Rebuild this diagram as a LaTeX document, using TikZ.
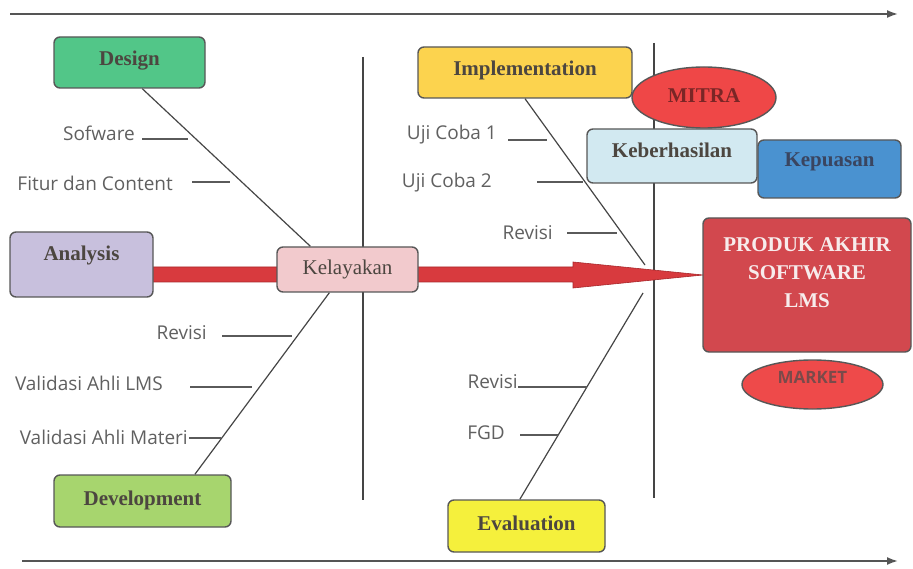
\documentclass[tikz,border=0pt]{standalone}
\usepackage{fontspec}
\setmainfont{Liberation Serif}
\newfontfamily\twigfont{Open Sans}
\usetikzlibrary{shapes.geometric,arrows.meta}

\definecolor{boxline}{HTML}{575757}
\definecolor{ttlgray}{HTML}{4C4640}
\definecolor{lblgray}{HTML}{606060}
\definecolor{twiggray}{HTML}{5A5A5A}
\definecolor{bonegray}{HTML}{454545}
\definecolor{axisgray}{HTML}{555555}
\definecolor{designfill}{HTML}{52C688}
\definecolor{analysisfill}{HTML}{C8C0DD}
\definecolor{kelfill}{HTML}{F2CACD}
\definecolor{devfill}{HTML}{A7D56E}
\definecolor{implfill}{HTML}{FCD34E}
\definecolor{evalfill}{HTML}{F5F03C}
\definecolor{mitrafill}{HTML}{EF4747}
\definecolor{mitratext}{HTML}{7A2626}
\definecolor{keberfill}{HTML}{D2E9F1}
\definecolor{kepfill}{HTML}{4A92D0}
\definecolor{keptext}{HTML}{3A4560}
\definecolor{produkfill}{HTML}{D2484E}
\definecolor{produktext}{HTML}{F7ECEC}
\definecolor{marketfill}{HTML}{EE4A4A}
\definecolor{markettext}{HTML}{7A4A4A}
\definecolor{spinered}{HTML}{D83A3E}
\definecolor{spineedge}{HTML}{A8282C}

\begin{document}
\begin{tikzpicture}[x=1pt, y=-1pt,
	phase/.style={draw=boxline, line width=1.4pt, rounded corners=6pt, inner sep=0pt},
	oval/.style={draw=boxline, line width=1.4pt, ellipse, inner sep=0pt},
	ttl/.style={font=\fontsize{21}{28}\selectfont\bfseries, text=ttlgray},
	twiglbl/.style={font=\twigfont\fontsize{19}{22}\selectfont, text=lblgray, inner sep=0pt, anchor=east},
	twig/.style={draw=twiggray, line width=1.8pt},
	bone/.style={draw=bonegray, line width=1.2pt},
	axis/.style={draw=axisgray, line width=1.8pt, -{Latex[length=11pt,width=8pt]}}]

		\useasboundingbox (0,0) rectangle (913,569);

		% time axes
		\draw [axis] (10,14) -- (898,14);
		\draw [axis] (22,561) -- (898,561);

		% stage borders
		\draw [bone] (363,57) -- (363,500);
		\draw [bone] (654,43) -- (654,498);

		% spine
		\fill [spinered, draw=spineedge, line width=0.6pt] (140,267) -- (573,267) -- (573,262) -- (703,275) -- (573,288) -- (573,282) -- (140,282) -- cycle;

		% phases
		\node [phase, fill=designfill, minimum width=151pt, minimum height=51pt,
			label={[ttl, yshift=2pt]center:Design}] (design) at (129.5,62.5) {};
		\node [phase, fill=analysisfill, minimum width=143pt, minimum height=65pt,
			label={[ttl, yshift=9pt]center:Analysis}] (analysis) at (81.5,264.5) {};
		\node [phase, fill=kelfill, minimum width=141pt, minimum height=45pt,
			label={[font=\fontsize{21}{24}\selectfont, text=ttlgray]center:Kelayakan}] (kel) at (347.5,269.5) {};
		\node [phase, fill=devfill, minimum width=177pt, minimum height=52pt,
			label={[ttl, yshift=1pt]center:Development}] (dev) at (142.5,501) {};
		\node [phase, fill=implfill, minimum width=214pt, minimum height=51pt,
			label={[ttl, yshift=2pt]center:Implementation}] (impl) at (525,72.5) {};
		\node [phase, fill=evalfill, minimum width=157pt, minimum height=52pt,
			label={[ttl, yshift=3pt]center:Evaluation}] (eval) at (526.5,526) {};

		% outcome
		\node [oval, fill=mitrafill, minimum width=144pt, minimum height=61pt,
			label={[ttl, text=mitratext, yshift=2pt]center:MITRA}] (mitra) at (704,97.5) {};
		\node [phase, fill=keberfill, minimum width=170pt, minimum height=54pt,
			label={[ttl, yshift=6pt]center:Keberhasilan}] (keber) at (672,156) {};
		\node [phase, fill=kepfill, minimum width=143pt, minimum height=58pt,
			label={[ttl, text=keptext, yshift=7pt]center:Kepuasan}] (kep) at (829.5,169) {};
		\node [phase, fill=produkfill, minimum width=208pt, minimum height=134pt,
			label={[ttl, font=\fontsize{21}{28}\selectfont\bfseries, align=center, text=produktext, yshift=12pt]center:PRODUK AKHIR\\SOFTWARE\\LMS}] (produk) at (807,285) {};
		\node [oval, fill=marketfill, minimum width=141pt, minimum height=49pt,
			label={[font=\twigfont\fontsize{17}{20}\selectfont\bfseries, text=markettext, yshift=7pt]center:MARKET}] (market) at (812.5,384.5) {};

		% bones
		\coordinate (implend) at (645,265);
		\coordinate (evalend) at (643,293);
		\draw [bone] (design.-64) -- (kel.148);
		\draw [bone] (kel.-128) -- (dev.27);
		\draw [bone] (impl.south) -- (implend);
		\draw [bone] (evalend) -- (eval.104);

		% causes
		\node [twiglbl] (sofware) at (135,133) {Sofware};
		\draw [twig] ([xshift=7pt,yshift=-6pt]sofware.east) -- ++(46,0);
		\node [twiglbl] (fitur) at (173,183) {Fitur dan Content};
		\draw [twig] ([xshift=19pt,yshift=1pt]fitur.east) -- ++(38,0);
		\node [twiglbl] (revisia) at (207,333) {Revisi};
		\draw [twig] ([xshift=15pt,yshift=-3pt]revisia.east) -- ++(70,0);
		\node [twiglbl] (vlms) at (163,383) {Validasi Ahli LMS};
		\draw [twig] ([xshift=27pt,yshift=-4pt]vlms.east) -- ++(62,0);
		\node [twiglbl] (vmateri) at (188,437) {Validasi Ahli Materi};
		\draw [twig] ([xshift=1pt,yshift=-1pt]vmateri.east) -- ++(32,0);

		\node [twiglbl] (uji1) at (497,135) {Uji Coba 1};
		\draw [twig] ([xshift=11pt,yshift=-5pt]uji1.east) -- ++(39,0);
		\node [twiglbl] (uji2) at (492,183) {Uji Coba 2};
		\draw [twig] ([xshift=45pt,yshift=1pt]uji2.east) -- ++(46,0);
		\node [twiglbl] (revisib) at (553,233) {Revisi};
		\draw [twig] ([xshift=14pt]revisib.east) -- ++(50,0);
		\node [twiglbl] (revisic) at (518,382) {Revisi};
		\draw [twig] ([yshift=-5pt]revisic.east) -- ++(69,0);
		\node [twiglbl] (fgd) at (505,433) {FGD};
		\draw [twig] ([xshift=15pt,yshift=-2pt]fgd.east) -- ++(38,0);
\end{tikzpicture}
\end{document}
